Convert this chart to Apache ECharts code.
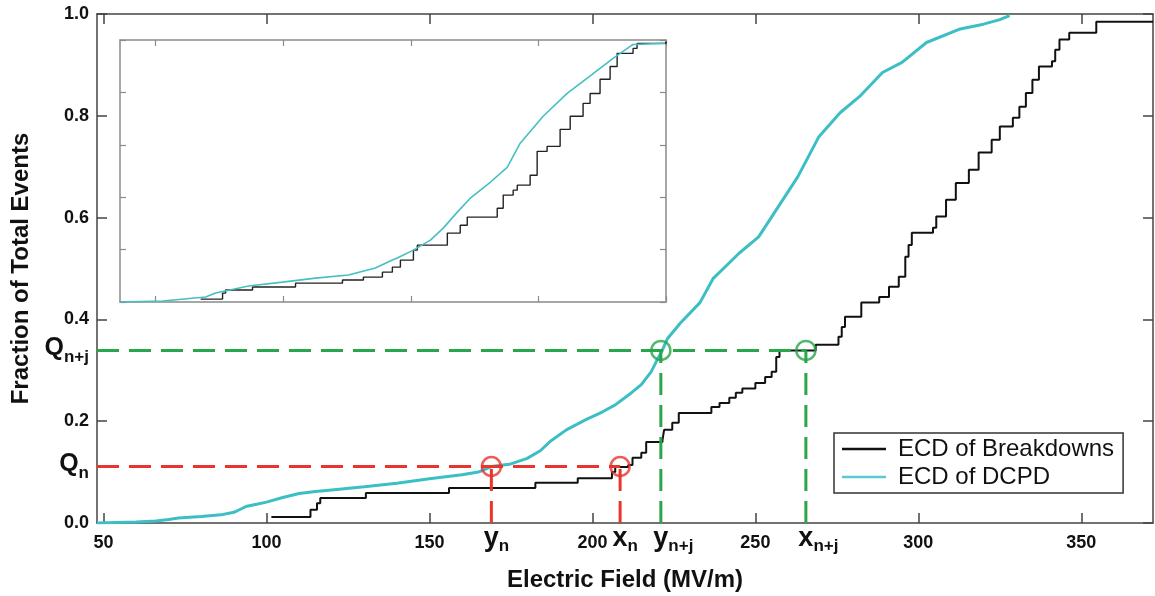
<!DOCTYPE html>
<html><head><meta charset="utf-8">
<script src="https://cdn.jsdelivr.net/npm/echarts@6/dist/echarts.min.js"></script>
<style>html,body{margin:0;padding:0;background:#fff}#c{width:1155px;height:596px}</style>
</head><body><div id="c"></div>
<script>
// ---------- data ----------
const xTicks = [50, 100, 150, 200, 250, 300, 350];
const yTicks = [0, 0.2, 0.4, 0.6, 0.8, 1.0];

// ECD of Breakdowns (main)
const bdField = [101.5,113.5,115.5,116.5,130.5,156,182.5,195.5,206,207,211,212.3,215,216.5,221.5,222,224.5,226.5,236.5,239,242,244,246,250,253,255,256.4,257.4,268.5,275.5,276.5,277.5,282.5,288,291,294,296,297,298,304.5,305.5,308.5,311.5,315.5,318.5,322.5,325,329,331,333,335,337,341,342,343.3,346.3,354.6,372];
const bdFrac  = [0.012,0.026,0.039,0.049,0.059,0.069,0.079,0.088,0.100,0.110,0.114,0.128,0.138,0.159,0.163,0.183,0.197,0.216,0.228,0.236,0.246,0.256,0.264,0.275,0.287,0.297,0.326,0.339,0.350,0.366,0.385,0.405,0.433,0.444,0.464,0.484,0.523,0.546,0.570,0.580,0.602,0.635,0.668,0.694,0.728,0.753,0.779,0.796,0.818,0.845,0.871,0.897,0.907,0.930,0.950,0.963,0.985,0.985];

// ECD of DCPD (main)
const dcField = [48,60,66,70,73,80,86,90,92,94,97,100,105,110,115,120,130,140,150,160,165,169,175,180,184,187,192,198,203,207,212,215,218,220,221.5,223,227,233,237,241,245,251,257,263,269.5,276,282,289,295,302.5,312.5,320,325,328];
const dcFrac  = [0,0.002,0.004,0.007,0.010,0.013,0.016,0.021,0.027,0.033,0.037,0.041,0.050,0.058,0.062,0.065,0.071,0.078,0.087,0.095,0.100,0.111,0.116,0.127,0.142,0.160,0.183,0.203,0.218,0.232,0.256,0.272,0.297,0.322,0.340,0.362,0.393,0.433,0.480,0.505,0.530,0.562,0.621,0.680,0.759,0.806,0.838,0.885,0.905,0.944,0.970,0.980,0.989,0.997];

// Inset curves
const insetTicks = [0, 1, 2, 3, 4];
const insetDcX = [-0.28,0.055,0.391,0.470,0.728,0.994,1.252,1.511,1.722,1.855,1.894,2.020,2.153,2.254,2.364,2.466,2.622,2.755,2.857,3.037,3.225,3.429,3.585,3.742,3.992];
const insetDcY = [0,0.004,0.019,0.034,0.061,0.076,0.091,0.103,0.130,0.160,0.168,0.198,0.236,0.282,0.343,0.396,0.457,0.514,0.606,0.709,0.796,0.872,0.930,0.983,0.987];
const insetBdX = [0.352,0.524,0.548,0.759,1.096,1.464,1.628,1.777,1.855,1.918,2.020,2.051,2.286,2.387,2.442,2.677,2.724,2.802,2.834,2.935,2.990,3.068,3.170,3.249,3.350,3.405,3.483,3.562,3.617,3.742,3.773,4.0];
const insetBdY = [0.011,0.034,0.046,0.057,0.072,0.084,0.095,0.114,0.133,0.160,0.198,0.217,0.263,0.293,0.324,0.358,0.408,0.427,0.446,0.484,0.575,0.594,0.659,0.709,0.758,0.796,0.850,0.899,0.949,0.968,0.987,0.994];

// Quantile annotations
const qNames  = ['n', 'n+j'];
const qLevels = [0.111, 0.339];
const dcpdAtQ = [169, 221];      // y_n, y_n+j
const bdAtQ   = [208.5, 265.5];  // x_n, x_n+j
const qColors = ['#e8352d', '#27a64a'];

// ---------- helpers ----------
const FONT = '"Liberation Sans", Arial, Helvetica, sans-serif';
const zip = (a, b) => a.map((v, i) => [v, b[i]]);
const near = (a, b) => Math.abs(a - b) < 1e-6;

const xSpecial = [];
qNames.forEach((n, i) => {
  xSpecial.push({ v: dcpdAtQ[i], main: 'y', sub: n });
  xSpecial.push({ v: bdAtQ[i], main: 'x', sub: n });
});
const xLabelValues = xTicks.concat(xSpecial.map(s => s.v));
const yLabelValues = yTicks.concat(qLevels);

function xFmt(v) {
  const s = xSpecial.find(o => near(o.v, v));
  if (!s) return '{t|' + v + '}';
  const sp = s.sub.length > 1 ? 'spL' : 'spS';
  return '{' + sp + '| }{m|' + s.main + '}{s|' + s.sub + '}';
}
function yFmt(v) {
  const i = qLevels.findIndex(q => near(q, v));
  if (i < 0) return '{t|' + v.toFixed(1) + '}';
  return '{q|Q}{qs|' + qNames[i] + '}';
}

const axisCol = '#444';
const insetCol = '#8a8a8a';

function frameAxis(extra) {
  return Object.assign({
    type: 'value',
    splitLine: { show: false },
    axisLine: { show: true, onZero: false, lineStyle: { color: axisCol, width: 1.5 } },
    axisTick: { show: true, inside: true, length: 10, lineStyle: { color: axisCol, width: 1.5 } },
    axisLabel: { show: false }
  }, extra);
}
function insetAxis(extra) {
  return Object.assign({
    type: 'value',
    splitLine: { show: false },
    axisLine: { show: true, onZero: false, lineStyle: { color: insetCol, width: 1.5 } },
    axisTick: { show: true, inside: true, length: 6, lineStyle: { color: insetCol, width: 1.2 } },
    axisLabel: { show: false }
  }, extra);
}

const series = [
  { name: 'ECD of Breakdowns', type: 'line', xAxisIndex: 0, yAxisIndex: 0, step: 'end',
    data: zip(bdField, bdFrac), symbol: 'none', lineStyle: { color: '#111', width: 2 }, itemStyle: { color: '#111' }, z: 3 },
  { name: 'ECD of DCPD', type: 'line', xAxisIndex: 0, yAxisIndex: 0,
    data: zip(dcField, dcFrac), symbol: 'none', lineStyle: { color: '#3cbfc4', width: 3 }, itemStyle: { color: '#3cbfc4' }, z: 3 },
  { type: 'line', xAxisIndex: 2, yAxisIndex: 2, step: 'end', data: zip(insetBdX, insetBdY),
    symbol: 'none', lineStyle: { color: '#222', width: 1.4 }, silent: true, z: 3 },
  { type: 'line', xAxisIndex: 2, yAxisIndex: 2, data: zip(insetDcX, insetDcY),
    symbol: 'none', lineStyle: { color: '#45bfc2', width: 1.6 }, silent: true, z: 3 }
];

qLevels.forEach((q, i) => {
  const col = qColors[i];
  const dash = { color: col, width: 3, type: [22, 10] };
  series.push({ type: 'line', data: [[48, q], [bdAtQ[i], q]], symbol: 'none', lineStyle: dash, silent: true, z: 4 });
  series.push({ type: 'line', data: [[dcpdAtQ[i], 0], [dcpdAtQ[i], q]], symbol: 'none', lineStyle: dash, silent: true, z: 4 });
  series.push({ type: 'line', data: [[bdAtQ[i], 0], [bdAtQ[i], q]], symbol: 'none', lineStyle: dash, silent: true, z: 4 });
  series.push({ type: 'scatter', data: [[dcpdAtQ[i], q], [bdAtQ[i], q]], symbol: 'circle', symbolSize: 19,
    itemStyle: { color: 'rgba(0,0,0,0)', borderColor: col, borderWidth: 2.5 }, silent: true, z: 6 });
});

const option = {
  backgroundColor: '#fff',
  animation: false,
  textStyle: { fontFamily: FONT },
  grid: [
    { left: 97, top: 14, right: 2, bottom: 73, outerBoundsMode: 'none', containLabel: false },
    { left: 120, top: 40, width: 546, height: 262, outerBoundsMode: 'none', containLabel: false, show: true, backgroundColor: '#fff', borderWidth: 0 }
  ],
  xAxis: [
    frameAxis({ gridIndex: 0, position: 'bottom', min: 48, max: 372,
      axisTick: { show: true, inside: true, length: 10, customValues: xTicks, lineStyle: { color: axisCol, width: 1.5 } },
      axisLabel: { show: true, customValues: xLabelValues, margin: 11, formatter: xFmt,
        rich: {
          t: { fontFamily: FONT, fontSize: 18, fontWeight: 'bold', color: '#111', lineHeight: 18 },
          m: { fontFamily: FONT, fontSize: 27, fontWeight: 'bold', color: '#111', lineHeight: 18, padding: [0, 0, 8, 0] },
          s: { fontFamily: FONT, fontSize: 17, fontWeight: 'bold', color: '#111', lineHeight: 16, padding: [6, 0, 0, 0] },
          spS: { width: 10, fontSize: 10 },
          spL: { width: 25, fontSize: 10 }
        } },
      name: 'Electric Field (MV/m)', nameLocation: 'middle', nameGap: 45,
      nameTextStyle: { fontFamily: FONT, fontSize: 24, fontWeight: 'bold', color: '#111' } }),
    frameAxis({ gridIndex: 0, position: 'top', min: 48, max: 372,
      axisTick: { show: true, inside: true, length: 10, customValues: xTicks, lineStyle: { color: axisCol, width: 1.5 } } }),
    insetAxis({ gridIndex: 1, position: 'bottom', min: -0.28, max: 4,
      axisTick: { show: true, inside: true, length: 6, customValues: insetTicks, lineStyle: { color: insetCol, width: 1.2 } } }),
    insetAxis({ gridIndex: 1, position: 'top', min: -0.28, max: 4,
      axisTick: { show: true, inside: true, length: 6, customValues: insetTicks, lineStyle: { color: insetCol, width: 1.2 } } })
  ],
  yAxis: [
    frameAxis({ gridIndex: 0, position: 'left', min: 0, max: 1, interval: 0.2,
      axisTick: { show: true, inside: true, length: 10, customValues: yTicks, lineStyle: { color: axisCol, width: 1.5 } },
      axisLabel: { show: true, customValues: yLabelValues, margin: 8, formatter: yFmt,
        rich: {
          t: { fontFamily: FONT, fontSize: 18, fontWeight: 'bold', color: '#111', lineHeight: 18 },
          q: { fontFamily: FONT, fontSize: 25, fontWeight: 'bold', color: '#111', lineHeight: 24, padding: [0, 0, 4, 0] },
          qs: { fontFamily: FONT, fontSize: 17, fontWeight: 'bold', color: '#111', lineHeight: 16, padding: [14, 0, 0, 0] }
        } },
      name: 'Fraction of Total Events', nameLocation: 'middle', nameGap: 64,
      nameTextStyle: { fontFamily: FONT, fontSize: 24, fontWeight: 'bold', color: '#111' } }),
    frameAxis({ gridIndex: 0, position: 'right', min: 0, max: 1, interval: 0.2 }),
    insetAxis({ gridIndex: 1, position: 'left', min: 0, max: 1, interval: 0.2 }),
    insetAxis({ gridIndex: 1, position: 'right', min: 0, max: 1, interval: 0.2 })
  ],
  legend: {
    data: [
      { name: 'ECD of Breakdowns', icon: 'rect', itemStyle: { color: '#111' } },
      { name: 'ECD of DCPD', icon: 'rect', itemStyle: { color: '#5cc6d4' } }
    ],
    orient: 'vertical', left: 834, top: 433,
    padding: [2, 9, 2, 8], itemGap: 0, itemWidth: 44, itemHeight: 2.5,
    backgroundColor: '#fff', borderColor: '#333', borderWidth: 1.5,
    textStyle: { fontFamily: FONT, fontSize: 24, color: '#111', lineHeight: 28, padding: [0, 0, 0, 7] }
  },
  series: series
};

const chart = echarts.init(document.getElementById('c'), null, { renderer: 'canvas' });
chart.setOption(option);
</script>
</body></html>
